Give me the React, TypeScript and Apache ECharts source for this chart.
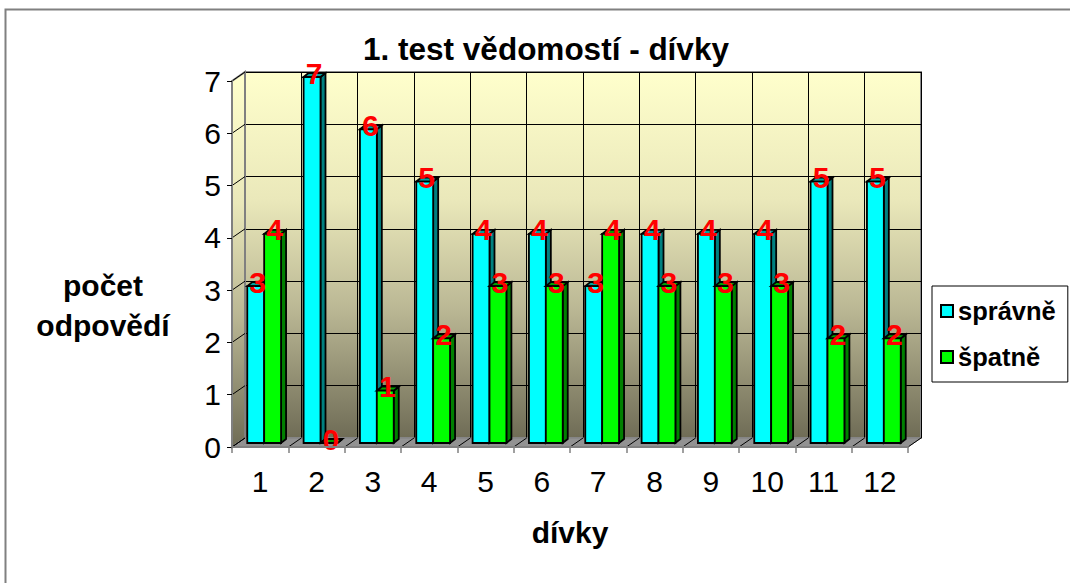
import React, { useEffect, useRef } from "react";
import * as echarts from "echarts";

const categories = ["1", "2", "3", "4", "5", "6", "7", "8", "9", "10", "11", "12"];
const spravne = [3, 7, 6, 5, 4, 4, 3, 4, 4, 4, 5, 5];
const spatne = [4, 0, 1, 2, 3, 3, 4, 3, 3, 3, 2, 2];
const seriesNames = ["správně", "špatně"];
const yMax = 7;
const yInterval = 1;
const titleText = "1. test vědomostí - dívky";
const yName = "počet\nodpovědí";
const xName = "dívky";

const FONT = '"Liberation Sans", Arial, sans-serif';
const NARROW = '"Liberation Sans Narrow", "Arial Narrow", "Liberation Sans", Arial, sans-serif';

// layout (front plane of the 3D box)
const FL = 232;
const FT = 81;
const FW = 676;
const FH = 366;
const W = 1070;
const H = 583;
// depth offset of the back wall
const OX = 13;
const OY = -9;
// bar position inside depth
const DX = 4;
const DY = -4;
// bar side depth
const SX = 5;
const SY = -4;

const faceColors = [
  { front: "#00FFFF", side: "#008080", top: "#00A0A0" },
  { front: "#00FF00", side: "#008000", top: "#00A000" },
];

function wallGradient() {
  return new echarts.graphic.LinearGradient(0, 0, 0, 1, [
    { offset: 0, color: "#FFFFCC" },
    { offset: 0.35, color: "#EAE8BA" },
    { offset: 0.65, color: "#BAB794" },
    { offset: 1, color: "#6F6C56" },
  ]);
}

function makeRenderItem(sIdx: number) {
  return (params: any, api: any) => {
    const idx = api.value(0);
    const v = api.value(1);
    const p0 = api.coord([idx, 0]);
    const p1 = api.coord([idx, v]);
    const band = api.size([1, 0])[0];
    const bw = band * 0.3;
    const left = p0[0] + (sIdx === 0 ? -bw : 0) + DX;
    const right = left + bw;
    const yb = p0[1] + DY;
    const yt = p1[1] + DY;
    const c = faceColors[sIdx];
    const stroke = { stroke: "#000", lineWidth: 1.8, lineJoin: "miter" };
    return {
      type: "group",
      children: [
        {
          type: "polygon",
          shape: {
            points: [
              [right, yt],
              [right + SX, yt + SY],
              [right + SX, yb + SY],
              [right, yb],
            ],
          },
          style: { fill: c.side, ...stroke },
        },
        {
          type: "polygon",
          shape: {
            points: [
              [left, yt],
              [left + SX, yt + SY],
              [right + SX, yt + SY],
              [right, yt],
            ],
          },
          style: { fill: c.top, ...stroke },
        },
        {
          type: "rect",
          shape: { x: left, y: yt, width: bw, height: Math.max(yb - yt, 0) },
          style: { fill: c.front, ...stroke },
        },
        {
          type: "text",
          z2: 100,
          x: left + bw / 2 + 2,
          y: yt - 4,
          style: {
            text: String(v),
            fill: "#FF0000",
            font: `bold 30px ${FONT}`,
            align: "center",
            verticalAlign: "middle",
          },
        },
      ],
    };
  };
}

function buildGraphics() {
  const els: any[] = [];
  // outer frame
  els.push({
    type: "rect",
    z: 0,
    shape: { x: 5.5, y: 9.5, width: 1200, height: 700 },
    style: { fill: "none", stroke: "#808080", lineWidth: 2 },
  });
  // side (left) wall
  els.push({
    type: "polygon",
    z: 1,
    shape: {
      points: [
        [FL, FT],
        [FL + OX, FT + OY],
        [FL + OX, FT + FH + OY],
        [FL, FT + FH],
      ],
    },
    style: { fill: wallGradient(), stroke: "#808080", lineWidth: 2 },
  });
  // floor
  els.push({
    type: "polygon",
    z: 1,
    shape: {
      points: [
        [FL, FT + FH],
        [FL + FW, FT + FH],
        [FL + FW + OX, FT + FH + OY],
        [FL + OX, FT + FH + OY],
      ],
    },
    style: { fill: "#929292", stroke: "#808080", lineWidth: 1 },
  });
  // diagonal connectors on side wall (value ticks)
  const nY = Math.round(yMax / yInterval);
  for (let i = 0; i <= nY; i++) {
    const y = FT + FH - (i * FH) / nY;
    els.push({
      type: "line",
      z: 2,
      shape: { x1: FL, y1: y, x2: FL + OX, y2: y + OY },
      style: { stroke: "#000", lineWidth: 1 },
    });
  }
  // diagonal connectors on floor (category boundaries)
  const nX = categories.length;
  for (let j = 0; j <= nX; j++) {
    const x = FL + (j * FW) / nX;
    els.push({
      type: "line",
      z: 2,
      shape: { x1: x, y1: FT + FH, x2: x + OX, y2: FT + FH + OY },
      style: { stroke: "#000", lineWidth: 1 },
    });
  }
  // y axis name
  els.push({
    type: "text",
    z: 5,
    x: 103,
    y: 305,
    style: {
      text: yName,
      fill: "#000",
      font: `bold 30px ${FONT}`,
      align: "center",
      verticalAlign: "middle",
      lineHeight: 40,
    },
  });
  return els;
}

export default function App() {
  const ref = useRef<HTMLDivElement>(null);
  useEffect(() => {
    if (!ref.current) return;
    const chart = echarts.init(ref.current, null, { renderer: "svg" });
    const option: any = {
      animation: false,
      backgroundColor: "#FFFFFF",
      title: {
        text: titleText,
        left: 541,
        top: 28,
        textAlign: "center",
        textStyle: { fontFamily: FONT, fontSize: 31.5, fontWeight: "bold", color: "#000" },
      },
      legend: {
        orient: "vertical",
        left: 932,
        top: 286,
        padding: [11, 12, 11, 8],
        borderColor: "#000",
        borderWidth: 1,
        backgroundColor: "#fff",
        itemWidth: 12,
        itemHeight: 12,
        itemGap: 18,
        icon: "rect",
        textStyle: { fontFamily: FONT, fontSize: 25.5, fontWeight: "bold", color: "#000", lineHeight: 28 },
        data: seriesNames.map((n, i) => ({
          name: n,
          itemStyle: { color: faceColors[i].front, borderColor: "#000", borderWidth: 2 },
        })),
      },
      grid: [
        { left: FL, top: FT, width: FW, height: FH, containLabel: false },
        {
          left: FL + OX,
          top: FT + OY,
          width: FW,
          height: FH,
          show: true,
          backgroundColor: wallGradient(),
          borderColor: "#8A8A8A",
          borderWidth: 2,
          z: 0,
        },
      ],
      xAxis: [
        {
          type: "category",
          gridIndex: 0,
          data: categories,
          z: 4,
          name: xName,
          nameLocation: "middle",
          nameGap: 70,
          nameTextStyle: { fontFamily: FONT, fontSize: 30, fontWeight: "bold", color: "#000" },
          axisLine: { show: true, lineStyle: { color: "#808080", width: 2 } },
          axisTick: { show: true, length: 6, interval: 0, lineStyle: { color: "#808080", width: 1.5 } },
          axisLabel: { fontFamily: NARROW, fontSize: 30, color: "#000", margin: 19, interval: 0 },
          splitLine: { show: false },
        },
        {
          type: "category",
          gridIndex: 1,
          data: categories,
          z: 0,
          axisLine: { show: false },
          axisTick: { show: false },
          axisLabel: { show: false },
          splitLine: { show: true, interval: 0, lineStyle: { color: "#000", width: 1 } },
        },
      ],
      yAxis: [
        {
          type: "value",
          gridIndex: 0,
          min: 0,
          max: yMax,
          interval: yInterval,
          z: 4,
          axisLine: { show: true, lineStyle: { color: "#808080", width: 2 } },
          axisTick: { show: true, length: 5, lineStyle: { color: "#000", width: 1 } },
          axisLabel: { fontFamily: NARROW, fontSize: 30, color: "#000", margin: 11 },
          splitLine: { show: false },
        },
        {
          type: "value",
          gridIndex: 1,
          min: 0,
          max: yMax,
          interval: yInterval,
          z: 0,
          axisLine: { show: false },
          axisTick: { show: false },
          axisLabel: { show: false },
          splitLine: { show: true, lineStyle: { color: "#000", width: 1 } },
        },
      ],
      graphic: buildGraphics(),
      series: [spravne, spatne].map((vals, i) => ({
        type: "custom",
        name: seriesNames[i],
        xAxisIndex: 0,
        yAxisIndex: 0,
        z: 3,
        clip: false,
        itemStyle: { color: faceColors[i].front, borderColor: "#000", borderWidth: 2 },
        encode: { x: 0, y: 1 },
        data: vals.map((v, k) => [k, v]),
        renderItem: makeRenderItem(i),
      })),
    };
    chart.setOption(option);
    return () => chart.dispose();
  }, []);
  return (
    <div
      ref={ref}
      style={{ position: "fixed", left: 0, top: 0, width: W, height: H, background: "#fff" }}
    />
  );
}
